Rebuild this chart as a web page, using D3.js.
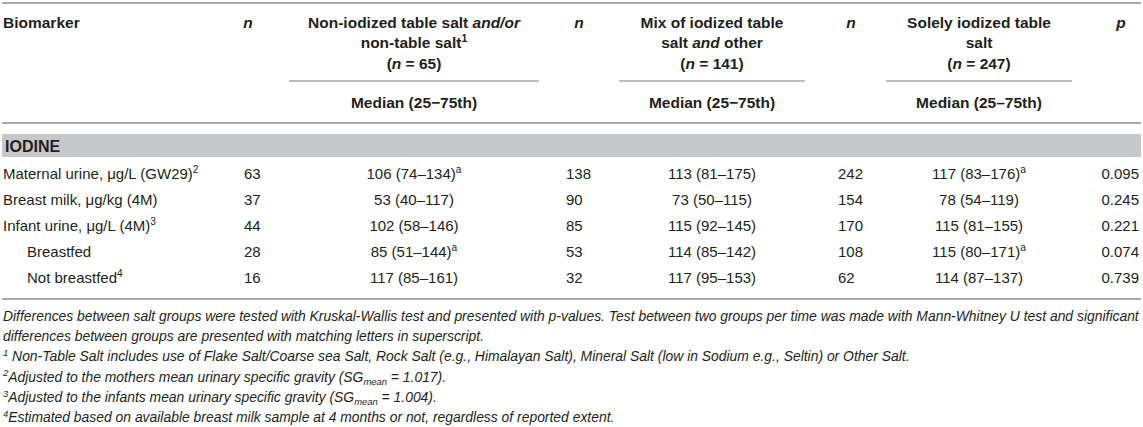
<!DOCTYPE html>
<html>
<head>
<meta charset="utf-8">
<script src="https://cdn.jsdelivr.net/npm/d3@7"></script>
<style>
  body { margin: 0; background: #fff; }
  svg text { font-family: "Liberation Sans", Arial, Helvetica, sans-serif; fill: #231f20; }
</style>
</head>
<body>
<div id="table"></div>
<script>
var width = 1143, height = 427

// table rows
var biomarkers = ['Maternal urine, μg/L (GW29)', 'Breast milk, μg/kg (4M)', 'Infant urine, μg/L (4M)', 'Breastfed', 'Not breastfed']
var biomarkerNotes = ['2', '', '3', '', '4']
var subRow = [false, false, false, true, true]

var nNonIodized = [63, 37, 44, 28, 16]
var medNonIodized = ['106 (74–134)', '53 (40–117)', '102 (58–146)', '85 (51–144)', '117 (85–161)']
var supNonIodized = ['a', '', '', 'a', '']

var nMix = [138, 90, 85, 53, 32]
var medMix = ['113 (81–175)', '73 (50–115)', '115 (92–145)', '114 (85–142)', '117 (95–153)']
var supMix = ['', '', '', '', '']

var nIodized = [242, 154, 170, 108, 62]
var medIodized = ['117 (83–176)', '78 (54–119)', '115 (81–155)', '115 (80–171)', '114 (87–137)']
var supIodized = ['a', '', '', 'a', '']

var pValues = ['0.095', '0.245', '0.221', '0.074', '0.739']

// header texts, runs are [text, style]
var groupLines = [
  [[['Non-iodized table salt ', ''], ['and/or', 'i']], [['non-table salt', ''], ['1', 'sup']]],
  [[['Mix of iodized table', '']], [['salt ', ''], ['and', 'i'], [' other', '']]],
  [[['Solely iodized table', '']], [['salt', '']]]
]
var groupN = [65, 141, 247]
var medianLabels = ['Median (25−75th)', 'Median (25−75th)', 'Median (25–75th)']
var sectionLabel = 'IODINE'

var footnotes = [
  [['Differences between salt groups were tested with Kruskal-Wallis test and presented with p-values. Test between two groups per time was made with Mann-Whitney U test and significant', '']],
  [['differences between groups are presented with matching letters in superscript.', '']],
  [['1', 'sup'], [' Non-Table Salt includes use of Flake Salt/Coarse sea Salt, Rock Salt (e.g., Himalayan Salt), Mineral Salt (low in Sodium e.g., Seltin) or Other Salt.', '']],
  [['2', 'sup'], ['Adjusted to the mothers mean urinary specific gravity (SG', ''], ['mean', 'sub'], [' = 1.017).', '']],
  [['3', 'sup'], ['Adjusted to the infants mean urinary specific gravity (SG', ''], ['mean', 'sub'], [' = 1.004).', '']],
  [['4', 'sup'], ['Estimated based on available breast milk sample at 4 months or not, regardless of reported extent.', '']]
]

var lineColor = '#a7a9ac'
var bandColor = '#c7c8ca'

var svg = d3.select('#table')
  .append('svg')
  .attr('width', width)
  .attr('height', height)

// column anchors
var colX = d3.scaleOrdinal()
  .domain(['label', 'n1', 'g1', 'n2', 'g2', 'n3', 'g3', 'p'])
  .range([3, 244, 414, 566, 712, 838, 979, 1139])
var headX = d3.scaleOrdinal()
  .domain(['n1', 'n2', 'n3', 'p'])
  .range([248, 579, 851, 1121])
var groupSpan = [[289, 539], [619, 805], [886, 1072]]

var rowY = d3.scalePoint()
  .domain(d3.range(biomarkers.length))
  .range([178.5, 282.5])
var noteY = d3.scalePoint()
  .domain(d3.range(footnotes.length))
  .range([321, 422])

function addRuns(text, runs, size) {
  var shift = 0
  runs.forEach(function(r) {
    var target = r[1] == 'sup' ? -0.38 * size : r[1] == 'sub' ? 0.22 * size : 0
    var t = text.append('tspan')
      .text(r[0])
      .attr('dy', target - shift)
    shift = target
    if (r[1] == 'sup' || r[1] == 'sub') t.style('font-size', (size * 0.68) + 'px')
    if (r[1] == 'i') t.style('font-style', 'italic')
  })
}

// rules
svg.append('line')
  .attr('x1', 2).attr('x2', 1141).attr('y1', 3).attr('y2', 3)
  .style('stroke', lineColor).style('stroke-width', 2)
svg.append('line')
  .attr('x1', 2).attr('x2', 1141).attr('y1', 123).attr('y2', 123)
  .style('stroke', lineColor).style('stroke-width', 2)
svg.append('line')
  .attr('x1', 2).attr('x2', 1141).attr('y1', 299).attr('y2', 299)
  .style('stroke', lineColor).style('stroke-width', 2)
svg.selectAll('.group-rule')
  .data(groupSpan)
  .enter().append('line')
  .attr('class', 'group-rule')
  .attr('x1', d => d[0]).attr('x2', d => d[1])
  .attr('y1', 81).attr('y2', 81)
  .style('stroke', '#bcbec0').style('stroke-width', 2)

// header
var headSize = 15.5
svg.append('text')
  .attr('x', colX('label')).attr('y', 27.5)
  .style('font-size', headSize + 'px').style('font-weight', 'bold')
  .text('Biomarker')

;['n1', 'n2', 'n3', 'p'].forEach(function(k) {
  svg.append('text')
    .attr('x', headX(k)).attr('y', 27.5)
    .attr('text-anchor', 'middle')
    .style('font-size', headSize + 'px').style('font-weight', 'bold').style('font-style', 'italic')
    .text(k == 'p' ? 'p' : 'n')
})

groupLines.forEach(function(lines, gi) {
  var cx = colX('g' + (gi + 1))
  lines.forEach(function(runs, li) {
    var t = svg.append('text')
      .attr('x', cx).attr('y', 27.5 + li * 20.5)
      .attr('text-anchor', 'middle')
      .style('font-size', headSize + 'px').style('font-weight', 'bold')
    addRuns(t, runs, headSize)
  })
  var t = svg.append('text')
    .attr('x', cx).attr('y', 68.5)
    .attr('text-anchor', 'middle')
    .style('font-size', headSize + 'px').style('font-weight', 'bold')
  addRuns(t, [['(', ''], ['n', 'i'], [' = ' + groupN[gi] + ')', '']], headSize)

  svg.append('text')
    .attr('x', cx).attr('y', 107.5)
    .attr('text-anchor', 'middle')
    .style('font-size', headSize + 'px').style('font-weight', 'bold')
    .text(medianLabels[gi])
})

// section band
svg.append('rect')
  .attr('x', 2).attr('y', 134).attr('width', 1139).attr('height', 23)
  .style('fill', bandColor)
svg.append('text')
  .attr('x', 5).attr('y', 152)
  .style('font-size', '16px').style('font-weight', 'bold')
  .text(sectionLabel)

// body rows
var bodySize = 15
var rows = svg.append('g').attr('class', 'rows')
  .style('font-size', bodySize + 'px')

biomarkers.forEach(function(b, i) {
  var y = rowY(i)
  var lab = rows.append('text')
    .attr('x', colX('label') + (subRow[i] ? 24 : 0)).attr('y', y)
  addRuns(lab, [[b, ''], [biomarkerNotes[i], 'sup']], bodySize)

  var groups = [
    [nNonIodized, medNonIodized, supNonIodized],
    [nMix, medMix, supMix],
    [nIodized, medIodized, supIodized]
  ]
  groups.forEach(function(g, gi) {
    rows.append('text')
      .attr('x', colX('n' + (gi + 1))).attr('y', y)
      .text(g[0][i])
    var t = rows.append('text')
      .attr('x', colX('g' + (gi + 1))).attr('y', y)
      .attr('text-anchor', 'middle')
    addRuns(t, [[g[1][i], ''], [g[2][i], 'sup']], bodySize)
  })

  rows.append('text')
    .attr('x', colX('p')).attr('y', y)
    .attr('text-anchor', 'end')
    .text(pValues[i])
})

// footnotes
var noteSize = 13.9
footnotes.forEach(function(runs, i) {
  var t = svg.append('text')
    .attr('x', 3).attr('y', noteY(i))
    .style('font-size', noteSize + 'px').style('font-style', 'italic')
  addRuns(t, runs, noteSize)
})
</script>
</body>
</html>
